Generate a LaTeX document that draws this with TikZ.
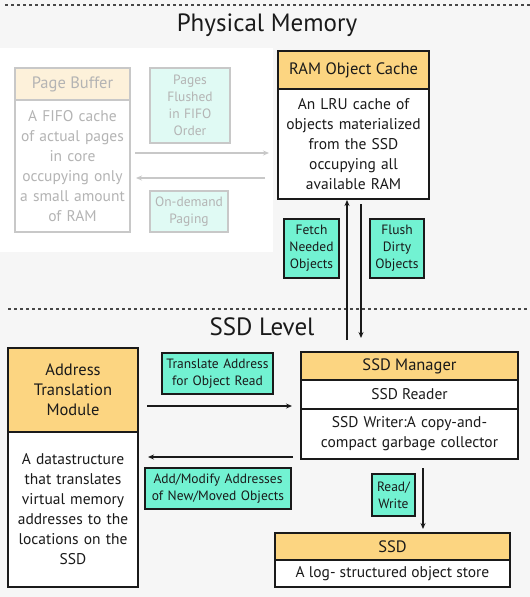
\documentclass[tikz,border=0pt]{standalone}
\usepackage{fontspec}
\setmainfont{PT Sans}
\usetikzlibrary{arrows.meta}
\newcommand\fsz[2]{\fontsize{#1}{#2}\selectfont}
\definecolor{bgc}{HTML}{F6F6F6}
\definecolor{hdrc}{HTML}{FCD581}
\definecolor{lblc}{HTML}{72F2D2}
\definecolor{fhdrc}{HTML}{FDF1DA}
\definecolor{flblc}{HTML}{E0FAF4}
\definecolor{fdraw}{HTML}{C8C8C8}
\definecolor{ftext}{HTML}{B4B4B4}
\definecolor{ink}{HTML}{1A1A1A}
\begin{document}
\begin{tikzpicture}[x=1pt,y=-1pt,
  every node/.style={inner sep=0pt, outer sep=0pt, text=ink},
  box/.style={draw=ink, line width=1.3pt, rectangle, align=center},
  hdr/.style={box, fill=hdrc, font=\fsz{16.5}{20}},
  bodyb/.style={box, fill=white, font=\fsz{15.5}{20}},
  lbl/.style={box, fill=lblc, font=\fsz{13.5}{17}},
  fbox/.style={draw=fdraw, line width=1.3pt, rectangle, align=center, text=ftext},
  fhdr/.style={fbox, fill=fhdrc, font=\fsz{16.5}{20}},
  fbody/.style={fbox, fill=white, font=\fsz{15.5}{20}},
  flbl/.style={fbox, fill=flblc, font=\fsz{13.5}{17}},
  arr/.style={draw=ink, line width=1.4pt, -{Stealth[length=6pt,width=5pt]}},
  farr/.style={draw=fdraw, line width=1.4pt, -{Stealth[length=6pt,width=5pt]}},
  dline/.style={draw=ink!80, line width=1.3pt, dash pattern=on 3pt off 3pt},
  title/.style={font=\fsz{25}{28}}
]
\useasboundingbox (0,0) rectangle (530,597);
\fill[bgc] (0,0) rectangle (530,597);
\fill[white] (0,48) rectangle (273,252);

% dashed separators
\coordinate (d1a) at (5,5);   \coordinate (d1b) at (530,5);
\coordinate (d2a) at (8,309); \coordinate (d2b) at (530,309);
\draw[dline] (d1a) -- (d1b);
\draw[dline] (d2a) -- (d2b);

% titles
\node[title] (pm) at (267,25) {Physical Memory};
\node[title] (sl) at (262,327) {SSD Level};

% faded page buffer
\node[fhdr, minimum width=115, minimum height=32] (pbh) at (72.5,84) {Page Buffer};
\node[fbody, minimum width=115, minimum height=132, text width=113] (pbb) at (72.5,166)
  {A FIFO cache\\of actual pages\\in core\\occupying only\\a small amount\\of RAM};
\node[flbl, minimum width=80, minimum height=75, text width=78] (pf) at (190,105.5)
  {Pages\\Flushed\\in FIFO\\Order};
\node[flbl, minimum width=78, minimum height=41, text width=76] (od) at (189,211.5)
  {On-demand\\Paging};

% RAM object cache
\node[hdr, minimum width=151, minimum height=38] (ramh) at (353.5,70) {RAM Object Cache};
\node[bodyb, minimum width=151, minimum height=110, text width=149] (ramb) at (353.5,144)
  {An LRU cache of\\objects materialized\\from the SSD\\occupying all\\available RAM};

\node[lbl, minimum width=55, minimum height=59, text width=53] (fetch) at (311.5,248.5)
  {Fetch\\Needed\\Objects};
\node[lbl, minimum width=54, minimum height=59, text width=52] (flush) at (397,248.5)
  {Flush\\Dirty\\Objects};

% address translation module
\node[hdr, minimum width=130, minimum height=84, text width=128] (atmh) at (73,390)
  {Address\\Translation\\Module};
\node[bodyb, minimum width=130, minimum height=155, text width=128] (atmb) at (73,509.5)
  {A datastructure\\that translates\\virtual memory\\addresses to the\\locations on the\\SSD};

\node[lbl, minimum width=111, minimum height=41, text width=109] (tr) at (217.5,373.5)
  {Translate Address\\for Object Read};
\node[lbl, minimum width=146, minimum height=41, text width=144] (am) at (218,488.5)
  {Add/Modify Addresses\\of New/Moved Objects};

% SSD manager
\node[hdr, minimum width=217, minimum height=28] (mgr) at (409.5,366) {SSD Manager};
\node[bodyb, minimum width=217, minimum height=29] (rdr) at (409.5,394.5) {SSD Reader};
\node[bodyb, minimum width=217, minimum height=50, text width=215] (wtr) at (409.5,434)
  {SSD Writer:A copy-and-\\compact garbage collector};

\node[lbl, minimum width=43, minimum height=42, text width=41] (rw) at (393.5,495)
  {Read/\\Write};

% SSD
\node[hdr, minimum width=235, minimum height=27] (ssdh) at (392.5,546.5) {SSD};
\node[bodyb, minimum width=235, minimum height=27] (ssdb) at (392.5,573.5) {A log- structured object store};

% faded arrows
\coordinate (p1) at (135,153);
\coordinate (p2) at (265,178);
\draw[farr, shorten >=9pt] (p1) -- (p1 -| ramb.west);
\draw[farr, shorten >=6pt] (p2) -- (p2 -| pbb.east);

% vertical arrows
\coordinate (u1) at (347,340);
\coordinate (u2) at (361,204);
\draw[arr, shorten >=1pt] (u1) -- (u1 |- ramb.south);
\draw[arr] (u2) -- (u2 |- 0,338);

% horizontal arrows
\coordinate (t1) at (147,406);
\coordinate (t2) at (293,457);
\draw[arr, shorten >=9pt] (t1) -- (t1 -| wtr.west);
\draw[arr, shorten >=10pt] (t2) -- (t2 -| atmb.east);

% read/write arrow
\coordinate (r1) at (423,468);
\draw[arr, shorten >=4pt] (r1) -- (r1 |- ssdh.north);
\end{tikzpicture}
\end{document}
